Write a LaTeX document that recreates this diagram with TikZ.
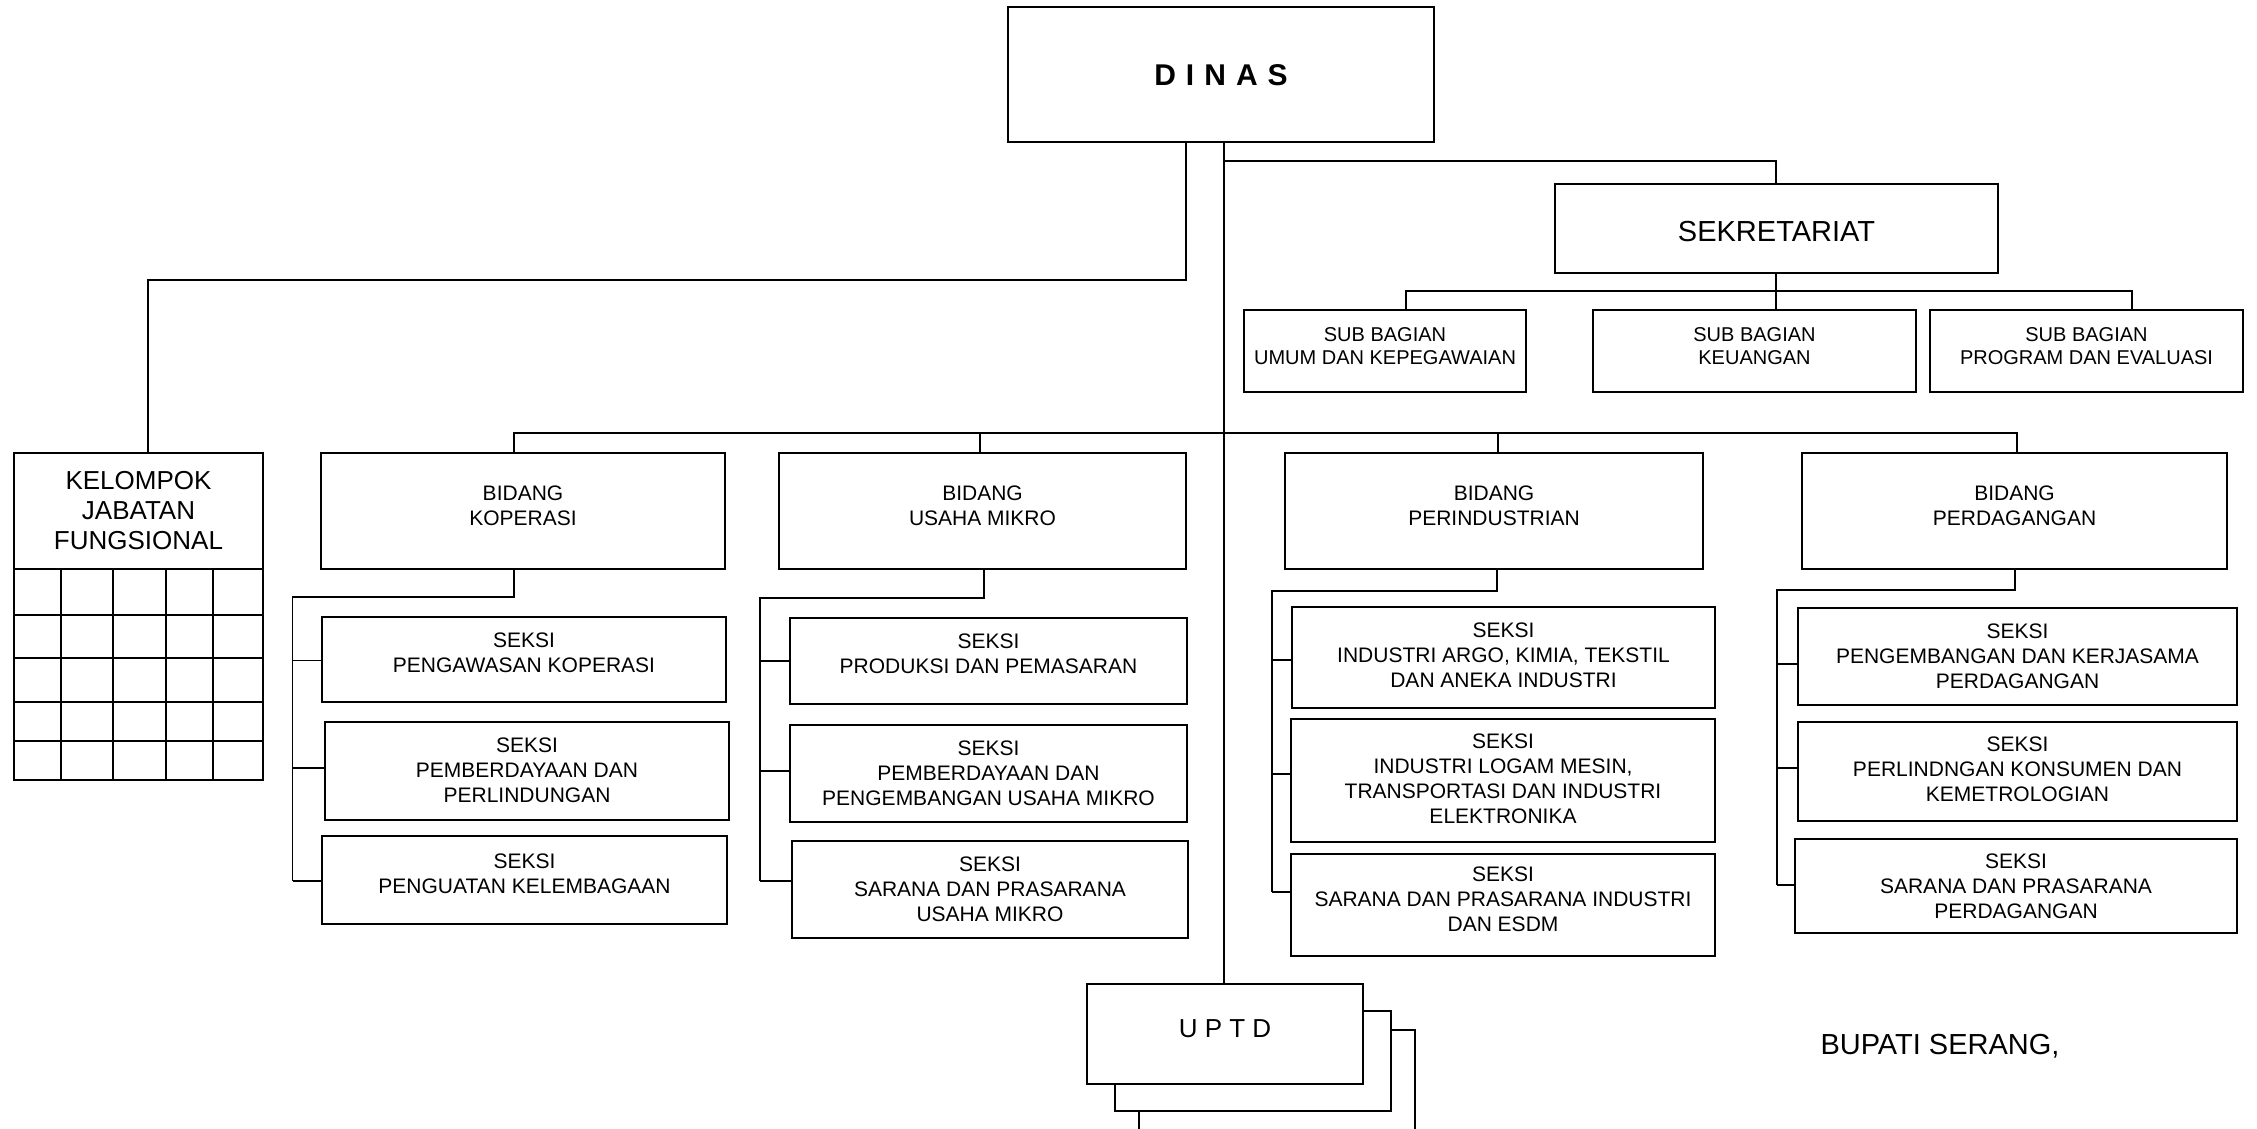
\documentclass[tikz,border=0pt]{standalone}
\usepackage{fontspec}
\setmainfont{Liberation Sans}
\tikzset{
  box/.style={draw, line width=2pt, fill=white, inner sep=0pt, outer sep=0pt},
  txt/.style={align=center, inner sep=0pt, font=\fontsize{21}{25}\selectfont},
  subtxt/.style={txt, font=\fontsize{20}{23}\selectfont},
  bigtxt/.style={txt, font=\fontsize{29}{34}\selectfont},
  conn/.style={line width=1.8pt},
}
% #1 label (text) options, #2 name, #3..#6 corners (x1,y1,x2,y2), #7 text
\newcommand\bx[7][txt]{%
  \pgfmathsetmacro\bxw{#5-#3}\pgfmathsetmacro\bxh{#6-#4}%
  \pgfmathsetmacro\bxc{(#3+#5)/2}\pgfmathsetmacro\byc{(#4+#6)/2}%
  \node[box,minimum width=\bxw pt,minimum height=\bxh pt,
        label={[#1]center:{#7}}] (#2) at (\bxc,\byc) {};}
\begin{document}
\begin{tikzpicture}[x=1pt,y=-1pt]
\useasboundingbox (0,0) rectangle (2257,1128);
% top
\bx[txt,font=\fontsize{30}{34}\selectfont\bfseries,yshift=-1pt]{dinas}{1008}{7}{1434}{142}{D\,\,I\,\,N\,\,A\,\,S}
\bx[bigtxt,yshift=-3pt]{sek}{1555}{184}{1998}{273}{SEKRETARIAT}
\bx[subtxt,yshift=5pt]{sb1}{1244}{310}{1526}{392}{SUB BAGIAN\\UMUM DAN KEPEGAWAIAN}
\bx[subtxt,yshift=5pt]{sb2}{1593}{310}{1916}{392}{SUB BAGIAN\\KEUANGAN}
\bx[subtxt,yshift=5pt]{sb3}{1930}{310}{2243}{392}{SUB BAGIAN\\PROGRAM DAN EVALUASI}
% kelompok jabatan fungsional
\bx[txt,font=\fontsize{26}{30}\selectfont]{kjf}{14}{453}{263}{569}{KELOMPOK\\JABATAN\\FUNGSIONAL}
\draw[line width=2pt] (kjf.south west) rectangle (263,780);
\foreach \cx in {60.5,112.5,165.5,213} \draw[line width=2pt] (\cx,569) -- (\cx,780);
\foreach \ry in {614.6,657.8,702.4,741.3} \draw[line width=2pt] (14,\ry) -- (263,\ry);
% bidang
\bx[txt,yshift=5pt]{bk}{321}{453}{725}{569}{BIDANG\\KOPERASI}
\bx[txt,yshift=5pt]{bu}{779}{453}{1186}{569}{BIDANG\\USAHA MIKRO}
\bx[txt,yshift=5pt]{bp}{1285}{453}{1703}{569}{BIDANG\\PERINDUSTRIAN}
\bx[txt,yshift=5pt]{bd}{1802}{453}{2227}{569}{BIDANG\\PERDAGANGAN}
% seksi koperasi
\bx[txt,yshift=7pt]{k1}{322}{617}{726}{702}{SEKSI\\PENGAWASAN KOPERASI}
\bx[txt,yshift=1pt]{k2}{325}{722}{729}{820}{SEKSI\\PEMBERDAYAAN DAN\\PERLINDUNGAN}
\bx[txt,yshift=6pt]{k3}{322}{836}{727}{924}{SEKSI\\PENGUATAN KELEMBAGAAN}
% seksi usaha mikro
\bx[txt,yshift=7pt]{u1}{790}{618}{1187}{704}{SEKSI\\PRODUKSI DAN PEMASARAN}
\bx[txt]{u2}{790}{725}{1187}{822}{SEKSI\\PEMBERDAYAAN DAN\\PENGEMBANGAN USAHA MIKRO}
\bx[txt]{u3}{792}{841}{1188}{938}{SEKSI\\SARANA DAN PRASARANA\\USAHA MIKRO}
% seksi perindustrian
\bx[txt,yshift=2pt]{p1}{1292}{607}{1715}{708}{SEKSI\\INDUSTRI ARGO, KIMIA, TEKSTIL\\DAN ANEKA INDUSTRI}
\bx[txt,yshift=2pt]{p2}{1291}{719}{1715}{842}{SEKSI\\INDUSTRI LOGAM MESIN,\\TRANSPORTASI DAN INDUSTRI\\ELEKTRONIKA}
\bx[txt,yshift=6pt]{p3}{1291}{854}{1715}{956}{SEKSI\\SARANA DAN PRASARANA INDUSTRI\\DAN ESDM}
% seksi perdagangan
\bx[txt]{d1}{1798}{608}{2237}{705}{SEKSI\\PENGEMBANGAN DAN KERJASAMA\\PERDAGANGAN}
\bx[txt,yshift=2pt]{d2}{1798}{722}{2237}{821}{SEKSI\\PERLINDNGAN KONSUMEN DAN\\KEMETROLOGIAN}
\bx[txt]{d3}{1795}{839}{2237}{933}{SEKSI\\SARANA DAN PRASARANA\\PERDAGANGAN}
% UPTD stack
\bx{uptdC}{1139}{1030}{1415}{1130}{}
\bx{uptdB}{1115}{1011}{1391}{1111}{}
\bx[txt,font=\fontsize{26}{30}\selectfont,yshift=5pt]{uptdA}{1087}{984}{1363}{1084}{U P T D}
% signature
\node[font=\fontsize{29}{34}\selectfont, inner sep=0pt] (bupati) at (1940,1046) {BUPATI SERANG,};

% ---- connectors ----
\coordinate (tr) at (1224,433);
\draw[conn] (dinas.south -| tr) -- (uptdA.north -| tr);
% kelompok
\coordinate (kA) at (1186,280); \coordinate (kB) at (148,280);
\draw[conn] (dinas.south -| kA) -- (kA) -- (kB) -- (kjf.north -| kB);
% sekretariat
\coordinate (s1) at (1224,161); \coordinate (s2) at (1776,161);
\draw[conn] (s1) -- (s2) -- (sek.north -| s2);
\draw[conn] (sek.south -| s2) -- (sb2.north -| s2);
\coordinate (sbL) at (1406,291); \coordinate (sbR) at (2132,291);
\draw[conn] (sb1.north -| sbL) -- (sbL) -- (sbR) -- (sb3.north -| sbR);
% bidang bus
\coordinate (bL) at (514,433); \coordinate (bR) at (2017,433);
\draw[conn] (bk.north -| bL) -- (bL) -- (bR) -- (bd.north -| bR);
\coordinate (bu0) at (980,433); \coordinate (bp0) at (1498,433);
\draw[conn] (bu0) -- (bu.north -| bu0);
\draw[conn] (bp0) -- (bp.north -| bp0);
% koperasi children
\coordinate (kc0) at (514,597); \coordinate (kc1) at (292.5,597); \coordinate (kc2) at (292.5,881);
\draw[conn] (bk.south -| kc0) -- (kc0) -- (kc1) -- (kc2);
\draw[conn] (kc1 |- 0,660.5) -- (k1.west |- 0,660.5);
\draw[conn] (kc1 |- 0,768) -- (k2.west |- 0,768);
\draw[conn] (kc2) -- (k3.west |- kc2);
% usaha mikro children
\coordinate (uc0) at (984,598); \coordinate (uc1) at (760,598); \coordinate (uc2) at (760,881);
\draw[conn] (bu.south -| uc0) -- (uc0) -- (uc1) -- (uc2);
\draw[conn] (uc1 |- 0,661) -- (u1.west |- 0,661);
\draw[conn] (uc1 |- 0,771) -- (u2.west |- 0,771);
\draw[conn] (uc2) -- (u3.west |- uc2);
% perindustrian children
\coordinate (pc0) at (1497,591); \coordinate (pc1) at (1272,591); \coordinate (pc2) at (1272,892);
\draw[conn] (bp.south -| pc0) -- (pc0) -- (pc1) -- (pc2);
\draw[conn] (pc1 |- 0,660) -- (p1.west |- 0,660);
\draw[conn] (pc1 |- 0,774) -- (p2.west |- 0,774);
\draw[conn] (pc2) -- (p3.west |- pc2);
% perdagangan children
\coordinate (dc0) at (2015,590); \coordinate (dc1) at (1777,590); \coordinate (dc2) at (1777,885);
\draw[conn] (bd.south -| dc0) -- (dc0) -- (dc1) -- (dc2);
\draw[conn] (dc1 |- 0,664) -- (d1.west |- 0,664);
\draw[conn] (dc1 |- 0,768) -- (d2.west |- 0,768);
\draw[conn] (dc2) -- (d3.west |- dc2);
\end{tikzpicture}
\end{document}
